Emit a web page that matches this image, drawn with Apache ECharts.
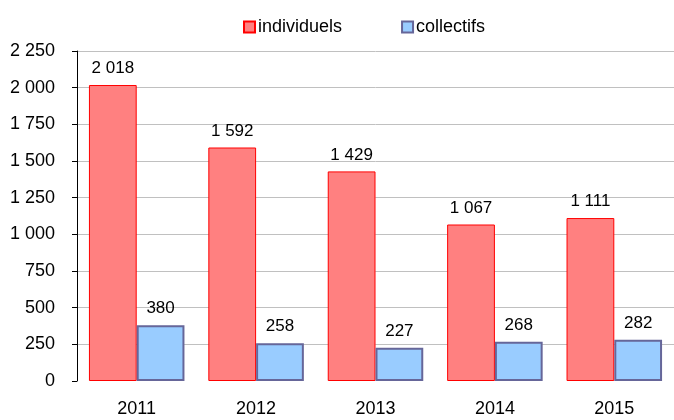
<!DOCTYPE html>
<html><head><meta charset="utf-8">
<script src="https://cdn.jsdelivr.net/npm/echarts@6/dist/echarts.min.js"></script>
<style>html,body{margin:0;padding:0;background:#fff}#c{width:674px;height:420px}</style>
</head><body><div id="c"></div>
<script>
const categories = ['2011','2012','2013','2014','2015'];
const individuels = [2018, 1592, 1429, 1067, 1111];
const collectifs = [380, 258, 227, 268, 282];
const yTicks = [0, 250, 500, 750, 1000, 1250, 1500, 1750, 2000, 2250];

function fmt(v){ return String(v).replace(/\B(?=(\d{3})+(?!\d))/g, ' '); }
const font = 'Liberation Sans, Arial, sans-serif';
const chart = echarts.init(document.getElementById('c'));
chart.setOption({
  animation: false,
  textStyle: {fontFamily: font},
  legend: {
    top: 13, left: 238, itemWidth: 11, itemHeight: 11, itemGap: 59,
    icon: 'rect',
    textStyle: {fontSize: 18, color: '#000', fontFamily: font, padding: [0,0,0,-2]},
    data: ['individuels','collectifs']
  },
  grid: {left: 77, top: 51, width: 600, height: 330, containLabel: false},
  xAxis: {
    type: 'category', data: categories,
    axisLine: {show: false}, axisTick: {show: false},
    axisLabel: {fontSize: 18, color: '#000', margin: 19, fontFamily: font}
  },
  yAxis: {
    type: 'value', min: yTicks[0], max: yTicks[yTicks.length-1], interval: 250,
    axisLine: {show: true, lineStyle: {color: '#000', width: 1}},
    axisTick: {show: true, length: 5, lineStyle: {color: '#000'}},
    axisLabel: {fontSize: 18, color: '#000', margin: 22, fontFamily: font, formatter: v => fmt(v)},
    splitLine: {show: true, showMinLine: false, lineStyle: {color: '#c0c0c0', width: 1}}
  },
  series: [
    {name: 'individuels', type: 'bar', data: individuels, barGap: '0%', barCategoryGap: '20%',
     itemStyle: {color: '#ff8080', borderColor: '#ff0000', borderWidth: 1},
     label: {show: true, position: 'top', distance: 8, fontSize: 17, color: '#000', fontFamily: font, formatter: p => fmt(p.value)}},
    {name: 'collectifs', type: 'bar', data: collectifs, barGap: '0%', barCategoryGap: '20%',
     itemStyle: {color: '#99ccff', borderColor: '#666699', borderWidth: 2},
     label: {show: true, position: 'top', distance: 8, fontSize: 17, color: '#000', fontFamily: font, formatter: p => fmt(p.value)}}
  ]
});
</script></body></html>
